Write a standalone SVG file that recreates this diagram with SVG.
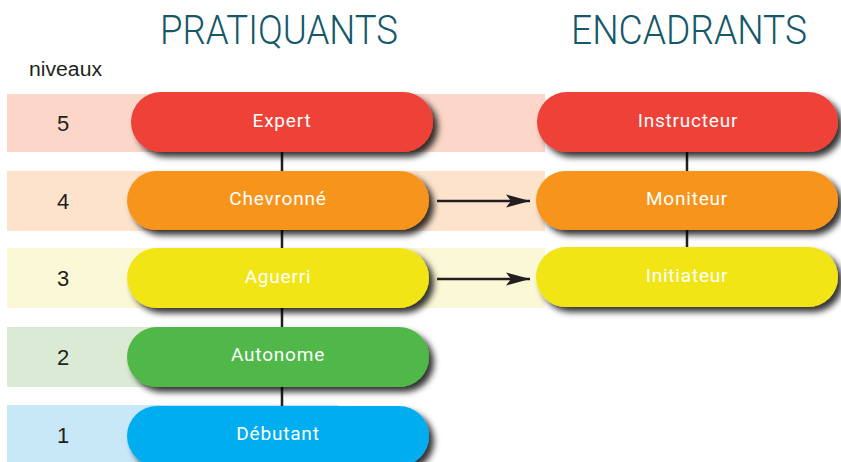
<svg xmlns="http://www.w3.org/2000/svg" width="841" height="462" viewBox="0 0 841 462">
<defs>
<filter id="sh" x="-10%" y="-30%" width="125%" height="170%">
<feDropShadow dx="5" dy="5" stdDeviation="3.2" flood-color="#000" flood-opacity="0.8"/>
</filter>
<marker id="arr" markerWidth="26" markerHeight="16" refX="24" refY="8" orient="auto" markerUnits="userSpaceOnUse">
<path d="M0,1.5 L24,8 L0,14.5 L5,8 Z" fill="#231f20"/>
</marker>
<style>
.title{font-family:Roboto,"Open Sans",sans-serif;font-weight:300;font-size:40px;fill:#14586a}
.lvl{font-family:"Liberation Sans",Arial,sans-serif;font-size:22px;fill:#231f20;text-anchor:middle}
.lab{font-family:Roboto,"Open Sans",sans-serif;font-weight:400;font-size:19px;fill:#fff;text-anchor:middle;letter-spacing:0.8px}
.ln{stroke:#231f20;stroke-width:2.5;fill:none}
.pill{filter:url(#sh)}
</style>
</defs>
<rect width="841" height="462" fill="#fff"/>
<text class="title" x="160" y="44" textLength="238" lengthAdjust="spacingAndGlyphs">PRATIQUANTS</text>
<text class="title" x="571" y="44" textLength="236" lengthAdjust="spacingAndGlyphs">ENCADRANTS</text>
<text x="29" y="76" font-family="'Liberation Sans',Arial,sans-serif" font-size="20" fill="#231f20" textLength="73" lengthAdjust="spacingAndGlyphs">niveaux</text>
<g id="bands">
<rect x="7" y="94" width="538" height="58" fill="#fbd6c9"/>
<rect x="7" y="171" width="538" height="60" fill="#fde3cc"/>
<rect x="7" y="248" width="538" height="60" fill="#fbf8d7"/>
<rect x="7" y="327" width="331" height="60" fill="#dbead4"/>
<rect x="7" y="405" width="331" height="57" fill="#c8e8f8"/>
</g>
<g id="levels">
<text class="lvl" x="63" y="131">5</text>
<text class="lvl" x="63" y="209">4</text>
<text class="lvl" x="63" y="286">3</text>
<text class="lvl" x="63" y="365">2</text>
<text class="lvl" x="63" y="443">1</text>
</g>
<g id="connectors">
<line class="ln" x1="282" y1="140" x2="282" y2="420"/>
<line class="ln" x1="687" y1="140" x2="687" y2="260"/>
<line class="ln" x1="437" y1="201" x2="530" y2="201" marker-end="url(#arr)"/>
<line class="ln" x1="437" y1="279" x2="530" y2="279" marker-end="url(#arr)"/>
</g>
<g id="expert"><rect class="pill" x="131" y="92" width="302" height="60" rx="30" fill="#ee4238"/><text class="lab" x="282" y="127">Expert</text></g>
<g id="chevronne"><rect class="pill" x="127" y="171" width="302" height="59" rx="29.5" fill="#f7941e"/><text class="lab" x="278" y="205">Chevronné</text></g>
<g id="aguerri"><rect class="pill" x="127" y="248" width="302" height="60" rx="30" fill="#f2e516"/><text class="lab" x="278" y="283">Aguerri</text></g>
<g id="autonome"><rect class="pill" x="127" y="327" width="302" height="60" rx="30" fill="#50b848"/><text class="lab" x="278" y="361">Autonome</text></g>
<g id="debutant"><rect class="pill" x="127" y="406" width="302" height="60" rx="30" fill="#00aeef"/><text class="lab" x="278" y="440">Débutant</text></g>
<g id="instructeur"><rect class="pill" x="537" y="92" width="301" height="60" rx="30" fill="#ee4238"/><text class="lab" x="688" y="127">Instructeur</text></g>
<g id="moniteur"><rect class="pill" x="536" y="171" width="302" height="59" rx="29.5" fill="#f7941e"/><text class="lab" x="687" y="205">Moniteur</text></g>
<g id="initiateur"><rect class="pill" x="536" y="247" width="302" height="60" rx="30" fill="#f2e516"/><text class="lab" x="687" y="282">Initiateur</text></g>
</svg>
